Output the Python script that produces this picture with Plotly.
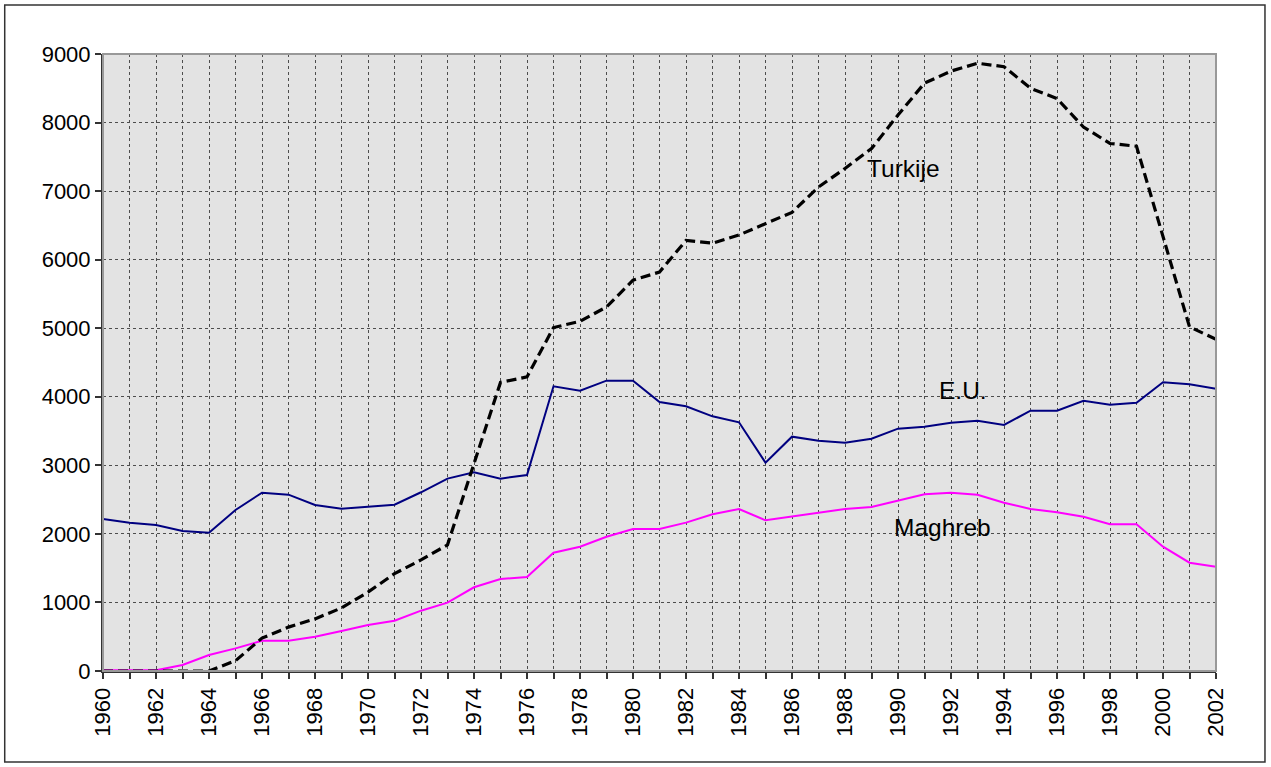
import plotly.graph_objects as go

years = list(range(1960, 2003))

turkije = [0, 0, 0, 0, 0, 150, 480, 640, 760, 920,
           1150, 1420, 1620, 1840, 3020, 4210, 4290, 5010, 5100, 5310,
           5700, 5820, 6280, 6240, 6360, 6530, 6690, 7060, 7330, 7620,
           8110, 8575, 8750, 8865, 8815, 8500, 8350, 7935, 7695, 7655,
           6320, 5020, 4840]

eu = [2217, 2163, 2130, 2042, 2018, 2349, 2601, 2572, 2421, 2368,
      2397, 2426, 2607, 2806, 2898, 2806, 2859, 4153, 4089, 4235,
      4235, 3924, 3861, 3715, 3628, 3039, 3418, 3360, 3331, 3389,
      3535, 3564, 3622, 3651, 3589, 3797, 3797, 3943, 3885, 3914,
      4211, 4182, 4118]

maghreb = [10, 10, 10, 87, 233, 330, 442, 442, 501, 583,
           671, 734, 880, 997, 1221, 1342, 1371, 1726, 1813, 1959,
           2071, 2071, 2164, 2286, 2363, 2198, 2251, 2310, 2363, 2392,
           2484, 2577, 2601, 2572, 2455, 2363, 2314, 2251, 2140, 2140,
           1813, 1580, 1522]

y_ticks = list(range(0, 9001, 1000))
x_tick_text = [str(y) if y % 2 == 0 else "" for y in years]

labels = ["Turkije", "E.U.", "Maghreb"]
label_x = [1990.2, 1992.45, 1991.68]
label_y = [7330, 4085, 2095]

FONT = "Liberation Sans, Arial, sans-serif"

fig = go.Figure()
fig.add_trace(go.Scatter(x=years, y=eu, mode="lines", name="E.U.",
                         line=dict(color="#000080", width=2)))
fig.add_trace(go.Scatter(x=years, y=maghreb, mode="lines", name="Maghreb",
                         line=dict(color="#ff00ff", width=2)))
fig.add_trace(go.Scatter(x=years, y=turkije, mode="lines", name="Turkije",
                         line=dict(color="#000000", width=3.2, dash="10px,5px")))

for t, xx, yy in zip(labels, label_x, label_y):
    fig.add_annotation(x=xx, y=yy, text=t, showarrow=False,
                       font=dict(family=FONT, size=24.5, color="#000000"),
                       xanchor="center", yanchor="middle")

# plot-area border (top/right, lighter grey)
fig.add_shape(type="rect", xref="paper", yref="paper", x0=0, x1=1, y0=0, y1=1,
              line=dict(color="#999999", width=2), layer="above")
# outer chart border
fig.add_shape(type="rect", xref="paper", yref="paper",
              x0=-0.0883, x1=1.0440, y0=-0.1475, y1=1.0794,
              line=dict(color="#333333", width=1.5), layer="above")

fig.update_layout(
    width=1271, height=767,
    margin=dict(l=103, r=55, t=54, b=96),
    paper_bgcolor="#ffffff",
    plot_bgcolor="#e3e3e3",
    showlegend=False,
    font=dict(family=FONT, size=22, color="#000000"),
)
fig.update_xaxes(
    range=[1960, 2002],
    tickmode="array", tickvals=years, ticktext=x_tick_text,
    tickangle=-90,
    ticks="outside", ticklen=6, tickcolor="#333333", tickwidth=1.5,
    showgrid=True, gridcolor="#4d4d4d", griddash="dot", gridwidth=1,
    showline=True, linecolor="#333333", linewidth=2,
    zeroline=False,
    tickfont=dict(family=FONT, size=22),
)
fig.update_yaxes(
    range=[0, 9000],
    tickmode="array", tickvals=y_ticks,
    ticks="outside", ticklen=6, tickcolor="#333333", tickwidth=1.5,
    showgrid=True, gridcolor="#4d4d4d", griddash="dot", gridwidth=1,
    showline=True, linecolor="#333333", linewidth=2,
    zeroline=False,
    tickfont=dict(family=FONT, size=22),
)

fig.write_html("out.html",
               config={"displayModeBar": False},
               post_script="document.body.style.margin='0';document.body.style.overflow='hidden';")
